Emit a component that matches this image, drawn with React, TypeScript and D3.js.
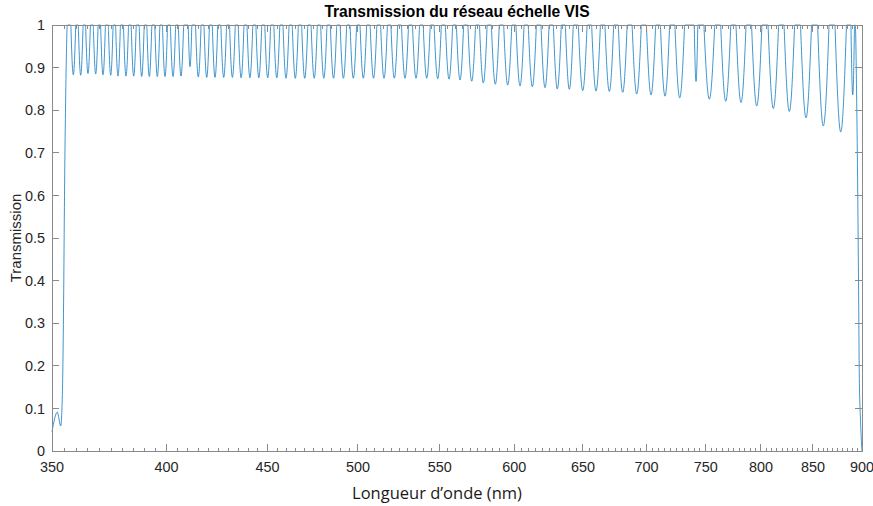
import React from "react";
import * as d3 from "d3";

const W = 873;
const H = 506;

// axis ticks
const xMajorTicks = [350, 400, 450, 500, 550, 600, 650, 700, 750, 800, 850, 900];
const xTickLabels = ["350", "400", "450", "500", "550", "600", "650", "700", "750", "800", "850", "900"];
const yTicks = [0, 0.1, 0.2, 0.3, 0.4, 0.5, 0.6, 0.7, 0.8, 0.9, 1];
const yTickLabels = ["0", "0.1", "0.2", "0.3", "0.4", "0.5", "0.6", "0.7", "0.8", "0.9", "1"];

// regular echelle dips: centre wavelength (nm) and minimum transmission
const dipNm = [
  358.8, 361.91, 365.0, 368.3, 371.45, 374.8, 378.0, 381.54, 384.98, 388.59,
  392.05, 395.73, 399.29, 403.04, 406.81, 415.1, 419.19, 423.27, 427.58, 431.94,
  436.35, 440.85, 445.45, 450.09, 454.89, 459.8, 464.81, 469.94, 475.17, 480.52,
  485.99, 491.63, 497.34, 503.17, 509.19, 515.46, 521.69, 528.24, 535.06, 541.78,
  548.77, 556.05, 563.23, 570.96, 578.74, 586.89, 595.44, 604.04, 612.77, 621.91,
  630.89, 639.78, 649.86, 660.02, 670.33, 680.89, 692.09, 703.73, 715.31, 727.68,
  753.23, 767.78, 781.6, 796.04, 811.6, 826.88, 843.14, 860.32, 877.95,
];
const dipMin = [
  0.883, 0.882, 0.886, 0.885, 0.883, 0.882, 0.88, 0.88, 0.88, 0.879,
  0.879, 0.879, 0.879, 0.879, 0.88, 0.878, 0.877, 0.877, 0.877, 0.877,
  0.876, 0.876, 0.876, 0.876, 0.876, 0.875, 0.875, 0.875, 0.875, 0.875,
  0.875, 0.875, 0.875, 0.875, 0.875, 0.875, 0.875, 0.875, 0.875, 0.875,
  0.874, 0.873, 0.871, 0.868, 0.864, 0.861, 0.859, 0.857, 0.855, 0.853,
  0.85, 0.849, 0.846, 0.845, 0.844, 0.842, 0.838, 0.836, 0.833, 0.829,
  0.826, 0.821, 0.818, 0.81, 0.804, 0.797, 0.782, 0.763, 0.749,
];

// narrow dips
const narrowNm = [411.11, 741.64, 890.32];
const narrowMin = [0.902, 0.867, 0.836];

// band edges
const leftEdgeNm = [350, 352.17, 353.57, 354.02, 354.39, 354.77, 355.14, 355.55, 355.93, 356.3];
const leftEdgeT = [0.045, 0.091, 0.059, 0.09, 0.17, 0.35, 0.6, 0.8, 0.93, 1.0];
const rightEdgeNm = [893.03, 894.28, 895.11, 896.16, 897.2, 898.46, 900];
const rightEdgeT = [1.0, 0.85, 0.7, 0.45, 0.17, 0.07, 0.0];

const M = { left: 52, right: 862, top: 25, bottom: 451 };

export default function App() {
  const xs = d3.scaleLog().domain([350, 900]).range([M.left, M.right]);
  const ys = d3.scaleLinear().domain([0, 1]).range([M.bottom, M.top]);

  // dip geometry in pixel space
  const cx = dipNm.map((v) => xs(v));
  const dips: { c: number; hw: number; d: number }[] = cx.map((c, i) => {
    const gaps: number[] = [];
    if (i > 0) gaps.push(c - cx[i - 1]);
    if (i < cx.length - 1) gaps.push(cx[i + 1] - c);
    const p = Math.min(...gaps);
    return { c, hw: 0.33 * p, d: 1 - dipMin[i] };
  });
  narrowNm.forEach((v, i) => dips.push({ c: xs(v), hw: 1.8, d: 1 - narrowMin[i] }));

  const pts: [number, number][] = [];
  leftEdgeNm.forEach((v, i) => pts.push([xs(v), leftEdgeT[i]]));
  const u0 = xs(leftEdgeNm[leftEdgeNm.length - 1]) + 0.2;
  const u1 = xs(rightEdgeNm[0]) - 0.2;
  for (let u = u0; u < u1; u += 0.2) {
    let t = 1;
    for (const dp of dips) {
      const s = (u - dp.c) / dp.hw;
      if (Math.abs(s) < 1) {
        const v = 1 - dp.d * Math.cos((Math.PI / 2) * s);
        if (v < t) t = v;
      }
    }
    pts.push([u, t]);
  }
  rightEdgeNm.forEach((v, i) => pts.push([xs(v), rightEdgeT[i]]));

  const line = d3
    .line<[number, number]>()
    .x((d) => d[0])
    .y((d) => ys(d[1]))
    .curve(d3.curveMonotoneX);

  const minorTicks = d3.range(355, 900, 5).filter((v) => v % 50 !== 0);
  const axisColor = "#8a8a8a";
  const textColor = "#262626";
  const font = "'Liberation Sans', Arial, Helvetica, sans-serif";

  return (
    <svg
      width={W}
      height={H}
      style={{ position: "absolute", left: 0, top: 0, background: "#fff" }}
    >
      <rect x={0} y={0} width={W} height={H} fill="#fff" />
      <path d={line(pts) || ""} fill="none" stroke="#0072BD" strokeWidth={0.75} />

      <g shapeRendering="crispEdges" stroke={axisColor} strokeWidth={1}>
        <rect
          x={M.left}
          y={M.top}
          width={M.right - M.left}
          height={M.bottom - M.top}
          fill="none"
        />
        {xMajorTicks.map((t) => (
          <g key={"xM" + t}>
            <line x1={xs(t)} x2={xs(t)} y1={M.bottom} y2={M.bottom - 7} />
            <line x1={xs(t)} x2={xs(t)} y1={M.top} y2={M.top + 7} />
          </g>
        ))}
        {minorTicks.map((t) => (
          <g key={"xm" + t}>
            <line x1={xs(t)} x2={xs(t)} y1={M.bottom} y2={M.bottom - 3.5} />
            <line x1={xs(t)} x2={xs(t)} y1={M.top} y2={M.top + 3.5} />
          </g>
        ))}
        {yTicks.map((t) => (
          <g key={"y" + t}>
            <line x1={M.left} x2={M.left + 7} y1={ys(t)} y2={ys(t)} />
            <line x1={M.right} x2={M.right - 7} y1={ys(t)} y2={ys(t)} />
          </g>
        ))}
      </g>

      <g fontFamily={font} fontSize={14.4} fill={textColor}>
        {xMajorTicks.map((t, i) => (
          <text key={"xl" + t} x={xs(t)} y={472} textAnchor="middle">
            {xTickLabels[i]}
          </text>
        ))}
        {yTicks.map((t, i) => (
          <text key={"yl" + t} x={45} y={ys(t)} dy="0.36em" textAnchor="end">
            {yTickLabels[i]}
          </text>
        ))}
      </g>

      <text
        x={(M.left + M.right) / 2}
        y={17}
        textAnchor="middle"
        fontFamily={font}
        fontWeight="bold"
        fontSize={15.6}
        fill="#000"
      >
        Transmission du réseau échelle VIS
      </text>
      <text
        transform={`translate(21, ${(M.top + M.bottom) / 2}) rotate(-90)`}
        textAnchor="middle"
        fontFamily={font}
        fontSize={15}
        fill={textColor}
      >
        Transmission
      </text>
      <text
        x={437}
        y={499}
        textAnchor="middle"
        fontFamily="'Open Sans', 'Noto Sans', sans-serif"
        fontSize={16.5}
        fill="#1a1a1a"
      >
        Longueur d’onde (nm)
      </text>
    </svg>
  );
}
